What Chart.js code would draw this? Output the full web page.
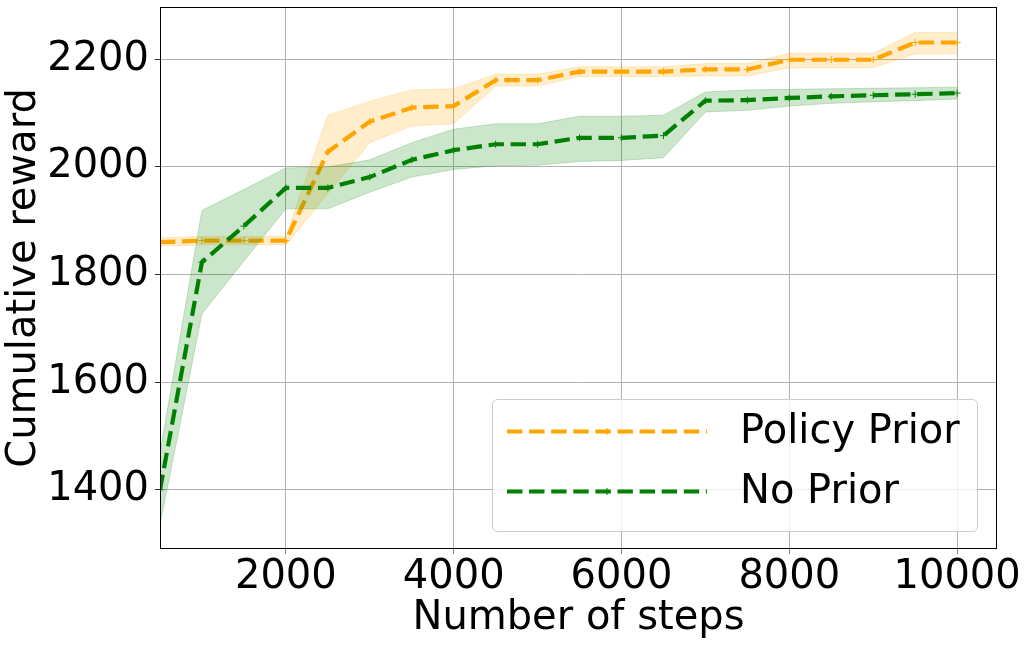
<!DOCTYPE html>
<html>
<head>
<meta charset="utf-8">
<script src="https://cdn.jsdelivr.net/npm/chart.js@4.4.0/dist/chart.umd.min.js"></script>
<style>
    html, body { margin: 0; padding: 0; background: #fff; }
    canvas { display: block; }
</style>
</head>
<body>
<canvas id="rewardChart" width="1028" height="649"></canvas>
<script>
const steps = [500, 1000, 1500, 2000, 2500, 3000, 3500, 4000, 4500, 5000,
               5500, 6000, 6500, 7000, 7500, 8000, 8500, 9000, 9500, 10000];

const policyPriorMean  = [1860, 1863, 1863, 1863, 2028, 2084, 2110, 2113, 2161, 2161,
                          2177, 2177, 2177, 2181, 2181, 2199, 2199, 2199, 2231, 2231];
const policyPriorUpper = [1868, 1871, 1871, 1871, 2096, 2122, 2143, 2145, 2172, 2172,
                          2186, 2186, 2186, 2192, 2192, 2211, 2211, 2211, 2250, 2250];
const policyPriorLower = [1853, 1855, 1855, 1855, 1950, 2045, 2076, 2080, 2150, 2150,
                          2168, 2168, 2168, 2169, 2169, 2184, 2184, 2184, 2210, 2210];

const noPriorMean  = [1400, 1823, 1890, 1961, 1961, 1981, 2013, 2031, 2042, 2042,
                      2054, 2054, 2058, 2123, 2124, 2128, 2131, 2133, 2135, 2137];
const noPriorUpper = [1470, 1919, 1958, 1998, 2000, 2013, 2045, 2070, 2080, 2080,
                      2094, 2094, 2096, 2139, 2143, 2144, 2145, 2146, 2147, 2148];
const noPriorLower = [1335, 1727, 1825, 1922, 1922, 1953, 1981, 1995, 2002, 2003,
                      2010, 2012, 2017, 2102, 2105, 2113, 2118, 2121, 2123, 2126];

const xTickValues = [2000, 4000, 6000, 8000, 10000];
const yTickValues = [1400, 1600, 1800, 2000, 2200];

const ORANGE = '#ffa500';
const GREEN = '#008000';
const DASH = [15.4, 6.7];
const FONT = 'DejaVu Sans';

const toPoints = function(values) {
    return steps.map(function(s, i) { return {x: s, y: values[i]}; });
};

const meanLine = function(label, values, color, order) {
    return {
        label: label,
        data: toPoints(values),
        borderColor: color,
        backgroundColor: color,
        borderWidth: 4.2,
        borderDash: DASH,
        borderJoinStyle: 'round',
        pointStyle: 'cross',
        pointRadius: 3.5,
        pointBorderWidth: 1,
        pointBorderColor: color,
        fill: false,
        tension: 0,
        order: order,
        inLegend: true
    };
};

const bandEdge = function(values, fill, color, order) {
    return {
        label: '',
        data: toPoints(values),
        borderColor: color,
        backgroundColor: color,
        borderWidth: 1,
        pointRadius: 0,
        fill: fill,
        tension: 0,
        order: order
    };
};

// frame around the plot plus a matplotlib style legend box
const frameAndLegend = {
    id: 'frameAndLegend',
    afterDraw(chart) {
        const ctx = chart.ctx;
        const a = chart.chartArea;
        ctx.save();
        ctx.strokeStyle = '#000';
        ctx.lineWidth = 1;
        ctx.strokeRect(a.left + 0.5, a.top + 0.5, a.right - a.left - 1, a.bottom - a.top - 1);

        const w = 485, h = 132;
        const bx = a.right - 20 - w;
        const by = a.bottom - 18 - h;
        ctx.beginPath();
        ctx.roundRect(bx + 0.5, by + 0.5, w, h, 5);
        ctx.fillStyle = 'rgba(255,255,255,0.8)';
        ctx.fill();
        ctx.strokeStyle = '#cccccc';
        ctx.stroke();

        const entries = chart.data.datasets.filter(function(d) { return d.inLegend; });
        entries.forEach(function(d, i) {
            const y = by + 32.5 + i * 60;
            ctx.setLineDash(DASH);
            ctx.lineWidth = 4.2;
            ctx.strokeStyle = d.borderColor;
            ctx.beginPath();
            ctx.moveTo(bx + 15, y);
            ctx.lineTo(bx + 215, y);
            ctx.stroke();
            ctx.setLineDash([]);
            ctx.lineWidth = 1;
            ctx.beginPath();
            ctx.moveTo(bx + 111.5, y); ctx.lineTo(bx + 118.5, y);
            ctx.moveTo(bx + 115, y - 3.5); ctx.lineTo(bx + 115, y + 3.5);
            ctx.stroke();

            ctx.fillStyle = '#000';
            ctx.font = '40px "' + FONT + '"';
            ctx.textBaseline = 'middle';
            ctx.textAlign = 'left';
            ctx.fillText(d.label, bx + 248, y + 1);
        });
        ctx.restore();
    }
};

const ctxChart = document.getElementById('rewardChart');
window.chartObject = new Chart(ctxChart, {
    type: 'line',
    data: {
        datasets: [
            meanLine('Policy Prior', policyPriorMean, ORANGE, 4),
            bandEdge(policyPriorUpper, false, 'rgba(255,165,0,0.2)', 3),
            bandEdge(policyPriorLower, '-1', 'rgba(255,165,0,0.2)', 3),
            meanLine('No Prior', noPriorMean, GREEN, 2),
            bandEdge(noPriorUpper, false, 'rgba(0,128,0,0.2)', 1),
            bandEdge(noPriorLower, '-1', 'rgba(0,128,0,0.2)', 1)
        ]
    },
    options: {
        responsive: false,
        animation: false,
        devicePixelRatio: 1,
        layout: { padding: { left: 0, right: 31, top: 7, bottom: 0 } },
        plugins: {
            legend: { display: false },
            tooltip: { enabled: false }
        },
        scales: {
            x: {
                type: 'linear',
                min: 500,
                max: 10475,
                afterBuildTicks: function(scale) {
                    scale.ticks = xTickValues.map(function(v) { return {value: v}; });
                },
                afterFit: function(scale) {
                    scale.height = 100;
                    scale.paddingLeft = 0;
                    scale.paddingRight = 0;
                },
                grid: { color: '#b0b0b0', lineWidth: 1, tickLength: 5, tickColor: '#888' },
                border: { display: false },
                ticks: {
                    color: '#000',
                    font: { family: FONT, size: 40 },
                    padding: 0,
                    maxRotation: 0,
                    autoSkip: false,
                    callback: function(v) { return String(v); }
                },
                title: {
                    display: true,
                    text: 'Number of steps',
                    color: '#000',
                    font: { family: FONT, size: 40, lineHeight: 1 },
                    padding: { top: 0, bottom: 10 }
                }
            },
            y: {
                type: 'linear',
                min: 1290,
                max: 2297,
                afterBuildTicks: function(scale) {
                    scale.ticks = yTickValues.map(function(v) { return {value: v}; });
                },
                afterFit: function(scale) {
                    scale.width = 160;
                    scale.paddingTop = 0;
                    scale.paddingBottom = 0;
                },
                grid: { color: '#b0b0b0', lineWidth: 1, tickLength: 5, tickColor: '#333' },
                border: { display: false },
                ticks: {
                    color: '#000',
                    font: { family: FONT, size: 40 },
                    padding: 6,
                    autoSkip: false,
                    callback: function(v) { return String(v); }
                },
                title: {
                    display: true,
                    text: 'Cumulative reward',
                    color: '#000',
                    font: { family: FONT, size: 40, lineHeight: 1 },
                    padding: { top: 5, bottom: 0 }
                }
            }
        }
    },
    plugins: [frameAndLegend]
});
</script>
</body>
</html>
